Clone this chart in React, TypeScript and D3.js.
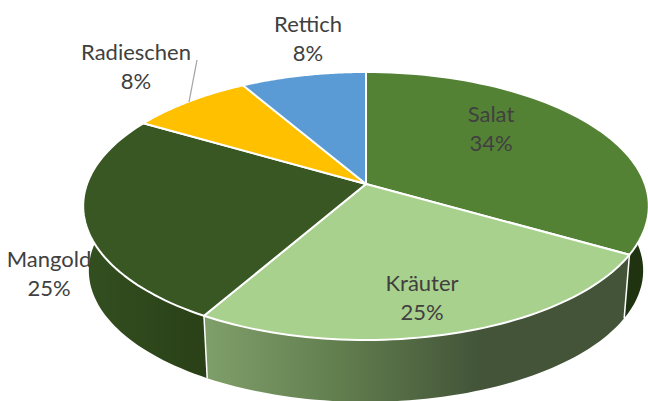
import React from "react";
import * as d3 from "d3";

const categories = ["Salat", "Kräuter", "Mangold", "Radieschen", "Rettich"];
const percentLabels = ["34%", "25%", "25%", "8%", "8%"];
const values = [33.3, 25.0, 25.1, 8.2, 8.4];
const topColors = ["#548235", "#A9D18E", "#385723", "#FFC000", "#5B9BD5"];
const labelX = [491, 422, 49, 136, 308];
const labelY = [122, 291, 267, 60, 32];

const W = 648, H = 401;
const cx = 366, cy = 184, rimA = 279, rimB = 130.4, persp = 0.164;
const depth = 65, bottomScale = 0.98;

type P = [number, number];
const project = (t: number, down: number, s: number): P => {
  const u = Math.sin(t), v = -Math.cos(t), w = 1 - persp * v;
  return [cx + (s * rimA * u) / w, cy + down + (s * rimB * v) / w];
};
const line = d3.line<P>();
const arcPts = (a0: number, a1: number, down: number, s: number): P[] =>
  d3.range(0, 61).map((i) => project(a0 + ((a1 - a0) * i) / 60, down, s));

const pie = d3.pie<number>().sort(null).startAngle(0).endAngle(2 * Math.PI);
const arcs = pie(values);

const sideOrder = [0, 2, 1];

export default function App() {
  return (
    <svg width={W} height={H} style={{ position: "absolute", left: 0, top: 0, background: "#fff" }}
      fontFamily="Lato, sans-serif">
      <defs>
        <linearGradient id="krautSide" gradientUnits="userSpaceOnUse" x1={205} x2={480} y1={0} y2={0}>
          <stop offset="0" stopColor="#7F9F6A" />
          <stop offset="0.5" stopColor="#617D4E" />
          <stop offset="1" stopColor="#435438" />
        </linearGradient>
        <linearGradient id="mangoldSide" gradientUnits="userSpaceOnUse" x1={85} x2={205} y1={0} y2={0}>
          <stop offset="0" stopColor="#334F20" />
          <stop offset="1" stopColor="#2A4017" />
        </linearGradient>
      </defs>
      {sideOrder.map((i) => {
        const a = arcs[i];
        const fill = i === 0 ? "#1F3310" : i === 1 ? "url(#krautSide)" : "url(#mangoldSide)";
        const pts = [...arcPts(a.startAngle, a.endAngle, 0, 1), ...arcPts(a.startAngle, a.endAngle, depth, bottomScale).reverse()];
        return <path key={i} d={line(pts)! + "Z"} fill={fill} />;
      })}
      {[arcs[0].endAngle, arcs[1].endAngle].map((t, i) => {
        const p0 = project(t, 0, 1), p1 = project(t, depth, bottomScale);
        return <line key={i} x1={p0[0]} y1={p0[1]} x2={p1[0]} y2={p1[1]} stroke="#fff" strokeWidth={1.5} />;
      })}
      {arcs.map((a, i) => (
        <path key={i} d={line([[cx, cy] as P, ...arcPts(a.startAngle, a.endAngle, 0, 1)])! + "Z"}
          fill={topColors[i]} stroke="#fff" strokeWidth={2} strokeLinejoin="round" />
      ))}
      <line x1={197} y1={60} x2={189} y2={102} stroke="#A6A6A6" strokeWidth={1.3} />
      {categories.map((c, i) => (
        <text key={c} textAnchor="middle" fill="#404040" fontSize={22}>
          <tspan x={labelX[i]} y={labelY[i]}>{c}</tspan>
          <tspan x={labelX[i]} y={labelY[i] + 29}>{percentLabels[i]}</tspan>
        </text>
      ))}
    </svg>
  );
}
